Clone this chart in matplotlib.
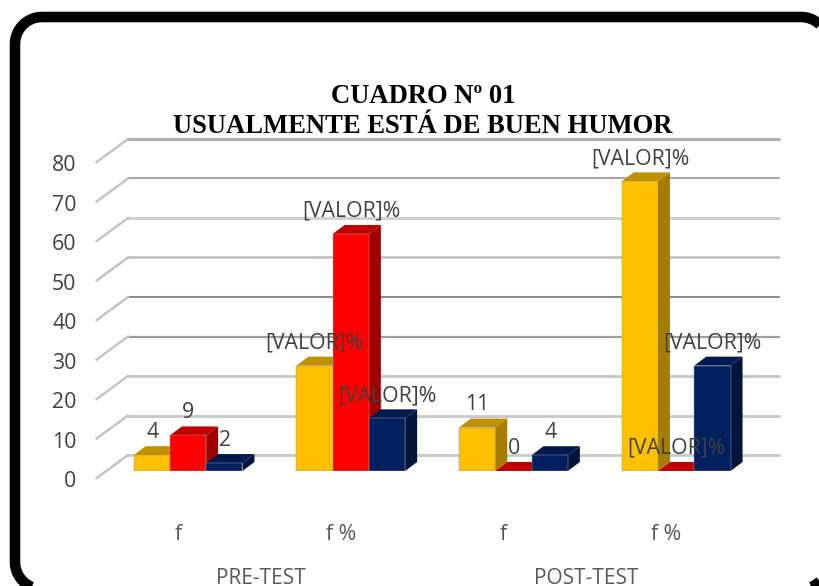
import numpy as np
import matplotlib
matplotlib.use('Agg')
import matplotlib.pyplot as plt
from matplotlib.patches import Polygon
from matplotlib.transforms import ScaledTranslation, IdentityTransform

# Datos del cuadro
grupos = ['f', 'f %', 'f', 'f %']
momentos = ['PRE-TEST', 'POST-TEST']
serie_a = [4, 26.67, 11, 73.33]
serie_b = [9, 60, 0, 0]
serie_c = [2, 13.33, 4, 26.67]
etiquetas_a = ['4', '[VALOR]%', '11', '[VALOR]%']
etiquetas_b = ['9', '[VALOR]%', '0', '[VALOR]%']
etiquetas_c = ['2', '[VALOR]%', '4', '[VALOR]%']
niveles = [0, 10, 20, 30, 40, 50, 60, 70, 80]

# Estilo
W, H = 820, 586
GRIS = '#404040'
colores = [('#FFC000', '#BF9000', '#A67D00'),
           ('#FF0000', '#C00000', '#A00000'),
           ('#002060', '#001A50', '#00143C')]
color_rejilla = ['#c8c8c8', '#c8c8c8', '#c4c4c4', '#9c9c9c', '#8c8c8c', '#bcbcbc', '#d0d0d0', '#a8a8a8', '#b0b0b0']
ancho_rejilla = [2.0, 2.0, 2.0, 1.6, 1.5, 1.8, 2.2, 1.5, 2.2]

plt.rcParams['font.family'] = ['Open Sans', 'DejaVu Sans']

fig = plt.figure(figsize=(W / 100, H / 100), dpi=100, facecolor='white')
# el eje coincide con el plano frontal de las barras
ax = fig.add_axes([96 / W, 1 - 471 / H, 704 / W, 316 / H])
px_x = 162.7
px_y = 316 / 80
ax.set_xlim((96 - 188) / px_x, (800 - 188) / px_x)
ax.set_ylim(0, 80)
for s in ax.spines.values():
    s.set_visible(False)

ancho = 36.3 / px_x
prof_x = 12 / px_x
prof_y = 9 / px_y
x = np.arange(len(grupos))

# rejilla: pared del fondo y tramo oblicuo
fondo_x0 = (128 - 188) / px_x
fondo_x1 = (779 - 188) / px_x
frente_x = (96.7 - 188) / px_x
sube_fondo = 16 / px_y
baja_frente = 7 / px_y
for n, c, lw in zip(niveles, color_rejilla, ancho_rejilla):
    ax.plot([fondo_x0, fondo_x1], [n + sube_fondo] * 2, color=c, lw=lw, clip_on=False, zorder=1, solid_capstyle='round')
    ax.plot([frente_x, fondo_x0], [n - baja_frente, n + sube_fondo], color='#c4c4c4', lw=1.8, clip_on=False, zorder=1)

# barras
series = [serie_a, serie_b, serie_c]
textos = [etiquetas_a, etiquetas_b, etiquetas_c]
z = 2
for k, (vals, etq, col) in enumerate(zip(series, textos, colores)):
    pos = x + (k - 1) * ancho
    for xi, v in zip(pos, vals):
        iz, de = xi - ancho / 2, xi + ancho / 2
        ax.add_patch(Polygon([(de, 0), (de + prof_x, prof_y), (de + prof_x, v + prof_y), (de, v)],
                             facecolor=col[2], edgecolor='none', zorder=z, clip_on=False))
        ax.add_patch(Polygon([(iz, v), (de, v), (de + prof_x, v + prof_y), (iz + prof_x, v + prof_y)],
                             facecolor=col[1], edgecolor='none', zorder=z, clip_on=False))
        if v > 0:
            ax.bar(xi, v, width=ancho, color=col[0], edgecolor='#9c9c9c', linewidth=0.35, zorder=z)
        z += 0.01

# etiquetas de datos
for k, (vals, etq) in enumerate(zip(series, textos)):
    pos = x + (k - 1) * ancho
    for xi, v, t in zip(pos, vals, etq):
        ax.annotate(t, (xi, v), xytext=(0.3, 16.3), textcoords='offset points', ha='center', va='center',
                    fontsize=15.3, color=GRIS, zorder=6, annotation_clip=False)

# ejes
ax.set_yticks(niveles)
ax.set_yticklabels([str(n) for n in niveles], fontsize=15.3, color=GRIS)
ax.tick_params(axis='y', length=0, pad=14)
ax.set_xticks(x)
ax.set_xticklabels(grupos, fontsize=15.3, color='#595959')
ax.tick_params(axis='x', length=0, pad=38.5)
baja = ScaledTranslation(0, -6 / 72, fig.dpi_scale_trans)
for lab in ax.get_yticklabels():
    lab.set_transform(lab.get_transform() + baja)
izq = ScaledTranslation(-7 / 72, 0, fig.dpi_scale_trans)
for lab in ax.get_xticklabels():
    lab.set_transform(lab.get_transform() + izq)

# momentos
for xc, m in zip([x[:2].mean(), x[2:].mean()], momentos):
    ax.annotate(m, (xc, 0), xytext=(-6, -81), textcoords='offset points', ha='center', va='baseline',
                fontsize=15, color='#595959', zorder=5, annotation_clip=False)

# titulo
tit = {'family': ['Liberation Serif'], 'weight': 'bold', 'fontsize': 19.2, 'color': 'black', 'ha': 'center', 'va': 'center'}
fig.text(423 / W, 1 - 96.5 / H, 'CUADRO Nº 01', **tit)
fig.text(423 / W, 1 - 126.5 / H, 'USUALMENTE ESTÁ DE BUEN HUMOR', **tit)

# marco redondeado, va encima de los textos de abajo
# (las curvas se rompen fuera del lienzo, por eso va como poligono de arcos)
x0, x1, y0, y1, r = 15, 828, H - 589, H - 17, 27
arcos = []
for cx, cy, a0 in [(x1 - r, y1 - r, 0), (x0 + r, y1 - r, 90), (x0 + r, y0 + r, 180), (x1 - r, y0 + r, 270)]:
    t = np.radians(np.linspace(a0, a0 + 90, 24))
    arcos.extend(zip(cx + r * np.cos(t), cy + r * np.sin(t)))
marco = Polygon(arcos, closed=True, transform=IdentityTransform(), facecolor='none', edgecolor='black',
                linewidth=7.6, zorder=20, clip_on=False)
ax.add_patch(marco)

fig.savefig('out.png', dpi=100)
